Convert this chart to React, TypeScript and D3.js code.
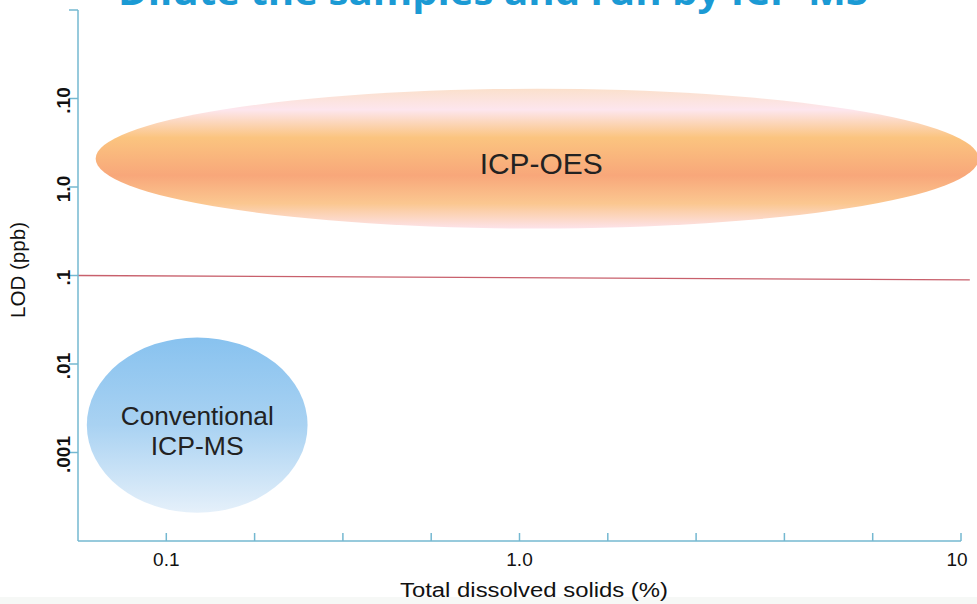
import React from "react";
import * as d3 from "d3";

const W = 977;
const H = 604;

// x axis: evenly spaced tick slots, labelled at some of them
const xTickSlots = [1, 2, 3, 4, 5, 6, 7, 8, 9, 10];
const xTickLabels: Record<number, string> = { 1: "0.1", 5: "1.0", 10: "10" };

// y axis: evenly spaced tick slots with the reference's labels
const yTickSlots = [1, 2, 3, 4, 5, 6];
const yTickLabels: Record<number, string> = { 1: ".001", 2: ".01", 3: ".1", 4: "1.0", 5: ".10" };

// regions (center & radii in axis slot units)
const regionNames = ["ICP-OES", "Conventional ICP-MS"];
const regionCx = [5.2, 1.35];
const regionCy = [4.32, 1.31];
const regionRx = [5.0, 1.25];
const regionRy = [0.79, 0.99];

// red reference line
const lineX = [0, 10.1];
const lineY = [3.0, 2.95];

const title = "Dilute the samples and run by ICP-MS";
const xTitle = "Total dissolved solids (%)";
const yTitle = "LOD (ppb)";

export default function App() {
  const x = d3.scaleLinear().domain([0, 10]).range([78, 961]);
  const y = d3.scaleLinear().domain([0, 6]).range([541, 10]);
  const axisColor = "#74b8d1";
  const font = "'Liberation Sans', Arial, sans-serif";

  const linePath = d3
    .line<number>()
    .x((_, i) => x(lineX[i]))
    .y((d) => y(d))(lineY);

  return (
    <div style={{ position: "absolute", left: 0, top: 0 }}>
      <svg width={W} height={H} style={{ display: "block" }}>
        <defs>
          <linearGradient id="oes" x1="0" y1="0" x2="0" y2="1">
            <stop offset="0%" stopColor="#fbe0cc" />
            <stop offset="15%" stopColor="#fde6ee" />
            <stop offset="35%" stopColor="#fbc47f" />
            <stop offset="62%" stopColor="#f8a77a" />
            <stop offset="82%" stopColor="#fbc790" />
            <stop offset="100%" stopColor="#fde3ea" />
          </linearGradient>
          <linearGradient id="ms" x1="0" y1="0" x2="0" y2="1">
            <stop offset="0%" stopColor="#88c2ef" />
            <stop offset="50%" stopColor="#a9d2f2" />
            <stop offset="100%" stopColor="#e5f0fa" />
          </linearGradient>
        </defs>
        <rect x={0} y={0} width={W} height={H} fill="#ffffff" />
        <rect x={0} y={597} width={W} height={7} fill="#f6f8f6" />

        <text
          x={118}
          y={5}
          textLength={750}
          lengthAdjust="spacingAndGlyphs"
          fontFamily="'Open Sans', 'DejaVu Sans', sans-serif"
          fontWeight="bold"
          fontSize={38}
          fill="#1b9ad4"
        >
          {title}
        </text>

        {/* regions */}
        {regionNames.map((name, i) => (
          <ellipse
            key={name}
            cx={x(regionCx[i])}
            cy={y(regionCy[i])}
            rx={x(regionRx[i]) - x(0)}
            ry={y(0) - y(regionRy[i])}
            fill={i === 0 ? "url(#oes)" : "url(#ms)"}
          />
        ))}
        <text
          x={x(regionCx[0]) + 4}
          y={y(regionCy[0]) + 15}
          textAnchor="middle"
          fontFamily={font}
          fontSize={30}
          textLength={123}
          lengthAdjust="spacingAndGlyphs"
          fill="#222"
        >
          {regionNames[0]}
        </text>
        <text
          x={x(regionCx[1])}
          y={y(regionCy[1]) + 0}
          textAnchor="middle"
          fontFamily={font}
          fontSize={25}
          textLength={153}
          lengthAdjust="spacingAndGlyphs"
          fill="#222"
        >
          Conventional
        </text>
        <text
          x={x(regionCx[1])}
          y={y(regionCy[1]) + 30}
          textAnchor="middle"
          fontFamily={font}
          fontSize={25}
          textLength={93}
          lengthAdjust="spacingAndGlyphs"
          fill="#222"
        >
          ICP-MS
        </text>

        {/* red line */}
        <path d={linePath ?? ""} stroke="#c8606c" strokeWidth={1.3} fill="none" />

        {/* axes */}
        <line x1={x(0)} x2={x(0)} y1={y(6)} y2={y(0)} stroke={axisColor} strokeWidth={1.5} />
        <line x1={x(0)} x2={x(10)} y1={y(0)} y2={y(0)} stroke={axisColor} strokeWidth={1.5} />
        {yTickSlots.map((t) => (
          <g key={"y" + t}>
            <line x1={x(0) - 9} x2={x(0)} y1={y(t)} y2={y(t)} stroke={axisColor} strokeWidth={1.5} />
            {yTickLabels[t] && (
              <text
                transform={`translate(${x(0) - 8},${y(t) + 2}) rotate(-90)`}
                textAnchor="middle"
                fontFamily={font}
                fontWeight="bold"
                fontSize={19}
                fill="#111"
              >
                {yTickLabels[t]}
              </text>
            )}
          </g>
        ))}
        {xTickSlots.map((t) => (
          <g key={"x" + t}>
            <line x1={x(t)} x2={x(t)} y1={y(0) - 8} y2={y(0)} stroke={axisColor} strokeWidth={1.5} />
            {xTickLabels[t] && (
              <text
                x={t === 10 ? x(t) - 4 : x(t)}
                y={y(0) + 25}
                textAnchor="middle"
                fontFamily={font}
                fontSize={19}
                fill="#111"
              >
                {xTickLabels[t]}
              </text>
            )}
          </g>
        ))}

        <text
          x={534}
          y={597}
          textAnchor="middle"
          fontFamily={font}
          fontSize={20}
          textLength={268}
          lengthAdjust="spacingAndGlyphs"
          fill="#111"
        >
          {xTitle}
        </text>
        <text
          transform={`translate(25,${270}) rotate(-90)`}
          textAnchor="middle"
          fontFamily={font}
          fontSize={20}
          textLength={96}
          lengthAdjust="spacingAndGlyphs"
          fill="#111"
        >
          {yTitle}
        </text>
      </svg>
    </div>
  );
}
